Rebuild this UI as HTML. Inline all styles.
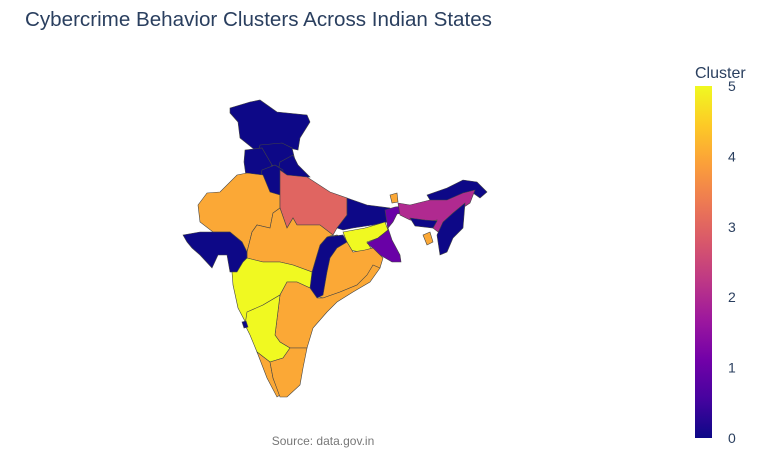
<!DOCTYPE html>
<html><head><meta charset="utf-8"><style>
body{margin:0;background:#fff;}
svg{display:block;font-family:"Liberation Sans",Arial,sans-serif;}
</style></head><body>
<svg id="chart" width="759" height="450">
<text x="25" y="26" font-size="20.6" fill="#2a3f5f">Cybercrime Behavior Clusters Across Indian States</text>
<g id="map"></g>
<text x="323" y="445" font-size="12" fill="#777" text-anchor="middle">Source: data.gov.in</text>
<text x="695" y="78" font-size="16" fill="#2a3f5f">Cluster</text>
<defs><linearGradient id="cg" x1="0" y1="1" x2="0" y2="0"></linearGradient></defs>
<rect x="695" y="86" width="17" height="352" fill="url(#cg)"/>
<g id="cticks"></g>
</svg>
<script>
const states=["Jammu & Kashmir","Himachal Pradesh","Punjab","Uttarakhand","Haryana","Rajasthan","Uttar Pradesh","Bihar","Jharkhand","West Bengal","Odisha","Chhattisgarh","Madhya Pradesh","Gujarat","Maharashtra","Andhra Pradesh","Karnataka","Goa","Kerala","Tamil Nadu","Sikkim","Arunachal Pradesh","Assam","Meghalaya","Nagaland-Manipur-Mizoram","Tripura"];
const clusters=[0,0,0,0,0,4,3,0,5,1,4,0,4,0,5,4,5,0,4,4,4,0,2,0,0,4];
const tickValues=[0,1,2,3,4,5];
const plasma=["#0d0887","#46039f","#7201a8","#9c179e","#bd3786","#d8576b","#ed7953","#fb9f3a","#fdca26","#f0f921"];
const geo={
"Jammu & Kashmir":"230,108 250,102 260,100 277,112 307,115 310,122 300,138 298,150 280,146 263,146 255,150 240,138 238,122 230,113",
"Himachal Pradesh":"260,145 282,143 292,148 295,160 283,168 270,165 258,155",
"Punjab":"245,150 262,148 272,165 265,178 246,176 244,162",
"Uttarakhand":"280,162 293,155 298,165 310,177 287,178 278,172",
"Haryana":"262,170 275,165 283,170 281,198 268,195 260,182",
"Rajasthan":"198,205 207,193 220,192 237,175 247,173 263,175 270,192 280,195 280,208 273,213 270,228 257,225 252,232 247,252 242,242 230,232 213,232 200,222",
"Uttar Pradesh":"280,170 287,175 307,177 330,192 347,198 347,215 337,228 333,235 320,225 297,225 293,218 287,228 280,208 280,195",
"Bihar":"347,198 367,205 390,208 387,222 373,225 353,228 343,230 337,228 347,215",
"Jharkhand":"343,232 365,228 385,222 388,230 378,238 367,242 372,250 360,252 350,250",
"West Bengal":"385,210 395,207 405,206 410,212 397,214 393,222 388,228 392,240 400,255 401,262 392,262 380,255 367,243 378,238 388,230",
"Odisha":"323,238 337,235 347,242 353,252 365,250 373,248 377,252 383,258 380,268 370,275 357,285 340,292 323,298 313,295 320,282 327,262",
"Chhattisgarh":"327,237 343,235 347,242 337,248 330,258 327,272 323,295 317,298 310,288 312,272 317,255 320,245",
"Madhya Pradesh":"247,252 252,232 257,225 270,228 273,213 280,208 287,228 293,218 297,225 320,225 333,235 327,237 320,245 317,255 312,272 293,265 280,262 263,262 247,258",
"Gujarat":"183,235 200,232 213,232 230,232 242,242 247,252 247,258 243,262 237,272 230,272 227,255 218,255 212,268 200,255 192,248 187,242",
"Maharashtra":"247,258 263,262 280,262 293,265 312,272 310,288 297,282 287,282 280,295 263,305 250,312 247,325 238,308 233,285 232,272 237,272 243,262",
"Andhra Pradesh":"287,282 297,282 310,288 317,298 323,298 340,292 357,285 367,275 373,265 380,268 370,282 353,292 337,302 327,312 313,328 307,348 290,348 280,342 275,335 280,295",
"Karnataka":"247,312 263,305 280,295 275,335 280,342 290,348 283,358 270,362 257,352 250,335 245,325",
"Goa":"242,322 246,321 248,327 244,328",
"Kerala":"257,352 270,362 273,378 280,395 277,397 267,378",
"Tamil Nadu":"270,362 283,358 290,348 307,348 303,368 300,385 287,397 280,397 273,378",
"Sikkim":"390,195 397,193 398,202 392,203",
"Arunachal Pradesh":"427,195 447,188 463,180 477,182 487,192 480,198 473,193 463,198 447,205 433,205",
"Assam":"398,203 410,205 430,200 447,200 463,193 475,190 470,203 455,213 445,222 438,232 433,228 437,220 425,222 410,220 400,215",
"Meghalaya":"410,218 425,220 437,221 433,228 415,226",
"Nagaland-Manipur-Mizoram":"453,213 465,203 463,228 453,238 447,252 440,255 437,235 443,222",
"Tripura":"423,235 430,232 433,242 427,245"
};
function colorScale(v){
  const t=Math.max(0,Math.min(1,v/5))*(plasma.length-1);
  const i=Math.min(plasma.length-2,Math.floor(t)),f=t-i;
  const a=parseInt(plasma[i].slice(1),16),b=parseInt(plasma[i+1].slice(1),16);
  const mix=s=>Math.round(((a>>s)&255)*(1-f)+((b>>s)&255)*f);
  return `rgb(${mix(16)},${mix(8)},${mix(0)})`;
}
const NS="http://www.w3.org/2000/svg";
const map=document.getElementById("map");
states.forEach((s,i)=>{
  const p=document.createElementNS(NS,"polygon");
  p.setAttribute("points",geo[s]);
  p.setAttribute("fill",colorScale(clusters[i]));
  p.setAttribute("stroke","#444");
  p.setAttribute("stroke-width","0.6");
  
  
  map.appendChild(p);
});
const cg=document.getElementById("cg");
plasma.forEach((c,i)=>{const st=document.createElementNS(NS,"stop");st.setAttribute("offset",i/(plasma.length-1));st.setAttribute("stop-color",c);cg.appendChild(st);});
const yc=v=>438-v/5*352;
const ct=document.getElementById("cticks");
tickValues.forEach(v=>{
  const t=document.createElementNS(NS,"text");
  t.setAttribute("x",728);t.setAttribute("y",yc(v)+5);
  t.setAttribute("font-size","14");t.setAttribute("fill","#2a3f5f");
  t.textContent=v;
  
  
  ct.appendChild(t);
});
</script>
</body></html>
